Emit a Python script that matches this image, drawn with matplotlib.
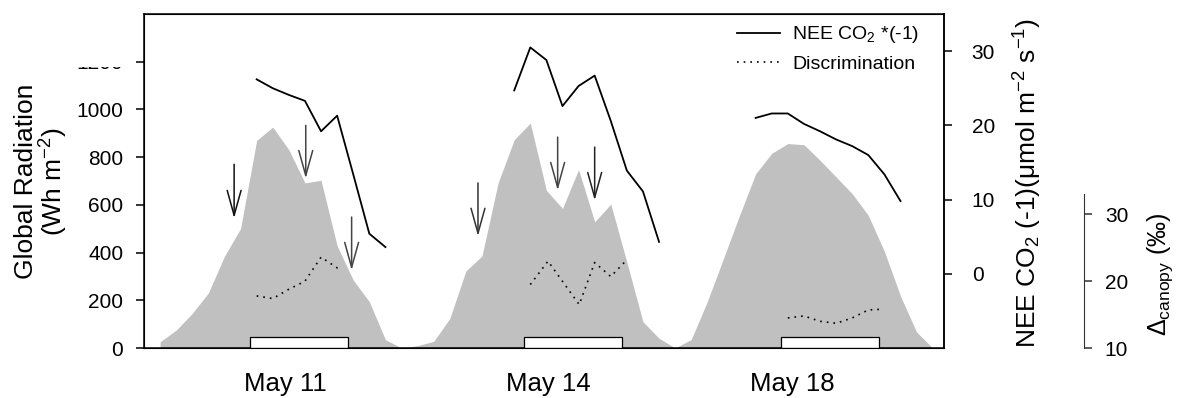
#!/usr/bin/env python3

import matplotlib
matplotlib.use('Agg')
import matplotlib.pyplot as plt
from matplotlib.lines import Line2D
from matplotlib.patches import Rectangle
import numpy as np

# Hourly global radiation (Wh m-2), the three days joined end to end
hours = np.arange(49)
radiation = [26, 75, 145, 231, 385, 501, 870, 926, 831, 692, 703, 428, 285, 194, 35,
             0, 10, 28, 124, 323, 386, 692, 873, 943, 661, 585, 748, 529, 603, 360, 110, 41,
             0, 36, 195, 375, 556, 730, 816, 857, 852, 787, 717, 647, 556, 405, 218, 67, 0]

# NEE CO2 * (-1), umol m-2 s-1, one segment per day
nee_hours = [list(range(6, 15)), list(range(22, 32)), list(range(37, 47))]
nee_values = [[26.2, 25.0, 24.1, 23.3, 19.2, 21.3, 13.4, 5.4, 3.6],
              [24.7, 30.5, 28.8, 22.6, 25.3, 26.7, 20.6, 13.9, 11.1, 4.3],
              [21.0, 21.6, 21.6, 20.2, 19.2, 18.1, 17.2, 16.0, 13.4, 9.8]]

# canopy discrimination (permil)
disc_hours = [[6, 7, 8, 9, 10, 11, 11.3],
              [23.0, 24.1, 26.04, 27.0, 28.0, 28.84],
              [39, 40, 41, 42, 43, 44, 44.8]]
disc_values = [[17.8, 17.4, 18.8, 20.0, 23.6, 22.0, 22.2],
               [19.5, 23.0, 16.5, 22.8, 20.7, 22.8],
               [14.5, 14.8, 14.0, 13.7, 14.5, 15.7, 15.8]]

# sampling periods (white bars) and cloud events (arrows)
sample_start = [5.59, 22.6, 38.6]
sample_end = [11.68, 28.7, 44.66]
arrow_hours = [4.6, 9.05, 11.9, 19.75, 24.7, 27.0]
arrow_from = [770, 933, 549, 692, 884, 842]
arrow_to = [544, 711, 326, 469, 661, 619]
arrow_colors = ['#111111', '#444444', '#444444', '#333333', '#444444', '#222222']

day_ticks = [7.8, 24.15, 39.3]
day_labels = ['May 11', 'May 14', 'May 18']


def main():
    '''Main function'''
    plt.rcParams['font.family'] = ['Liberation Sans', 'DejaVu Sans']
    plt.rcParams['mathtext.fontset'] = 'custom'
    plt.rcParams['mathtext.rm'] = 'Liberation Sans'
    plt.rcParams['mathtext.it'] = 'Liberation Sans:italic'
    plt.rcParams['mathtext.bf'] = 'Liberation Sans:bold'

    fig = plt.figure(figsize=(11.92, 3.98), dpi=100)
    ax = fig.add_axes([0.1208, 0.1256, 0.6711, 0.8392])

    # radiation as grey area
    ax.fill_between(hours, 0, radiation, color='#c0c0c0', linewidth=0, zorder=1)
    for s, e in zip(sample_start, sample_end):
        ax.add_patch(Rectangle((s, 0), e - s, 48, facecolor='white',
                               edgecolor='black', linewidth=0.9, zorder=3))
    for x, y0, y1, c in zip(arrow_hours, arrow_from, arrow_to, arrow_colors):
        ax.annotate('', xy=(x, y1), xytext=(x, y0),
                    arrowprops=dict(arrowstyle='->,head_length=1.8,head_width=0.5',
                                    color=c, lw=1.1, shrinkA=0, shrinkB=0), zorder=4)

    ax.set_xlim(-1, 48.7)
    ax.set_ylim(0, 1400)
    ax.set_yticks(range(0, 1201, 200))
    ax.set_xticks(day_ticks)
    ax.set_xticklabels(day_labels, fontsize=18.5)
    ax.tick_params(axis='x', length=0, pad=17)
    ax.tick_params(axis='y', labelsize=15, length=6, width=1.1, pad=9)
    for sp in ax.spines.values():
        sp.set_linewidth(1.1)

    # NEE on the right hand axis
    ax2 = ax.twinx()
    for h, v in zip(nee_hours, nee_values):
        ax2.plot(h, v, color='black', lw=1.3)
    ax2.set_ylim(-10, 35)
    ax2.set_yticks([0, 10, 20, 30])
    ax2.tick_params(axis='y', labelsize=15, length=6, width=1.1, pad=14)
    ax2.spines['right'].set_linewidth(1.1)

    # discrimination on an offset third axis
    ax3 = ax.twinx()
    for h, v in zip(disc_hours, disc_values):
        ax3.plot(h, v, color='black', lw=1.2, linestyle=(0, (1, 3)))
    ax3.set_ylim(10, 60)
    ax3.set_yticks([10, 20, 30])
    ax3.spines['right'].set_position(('axes', 1.175))
    ax3.spines['right'].set_bounds(10, 33)
    ax3.spines['right'].set_color('#333333')
    for side in ['left', 'top', 'bottom']:
        ax3.spines[side].set_visible(False)
    ax3.tick_params(axis='y', labelsize=15, length=6, width=1.1, pad=9, color='#333333')

    handles = [Line2D([0], [0], color='black', lw=1.3),
               Line2D([0], [0], color='black', lw=1.2, linestyle=(0, (1, 3)))]
    ax3.legend(handles, ['NEE CO$_2$ *(-1)', 'Discrimination'], loc='upper left',
               bbox_to_anchor=(0.741, 0.969), frameon=False, fontsize=14,
               handlelength=2.2, handletextpad=0.65, labelspacing=0.5,
               borderpad=0, borderaxespad=0)

    # axis titles
    fig.text(0.035, 0.545, 'Global Radiation\n(Wh m$^{-2}$)', rotation=90,
             ha='center', va='center', fontsize=19, linespacing=1.0)
    fig.text(0.862, 0.54, 'NEE CO$_2$ (-1)(μmol m$^{-2}$ s$^{-1}$)', rotation=90,
             ha='center', va='center', fontsize=19)
    fig.text(0.973, 0.31, 'Δ$_{\\mathrm{canopy}}$ (‰)', rotation=90,
             ha='center', va='center', fontsize=18)

    # blank patch over the top left tick label
    fig.patches.append(Rectangle((75 / 1192, 1 - 67 / 398), 49 / 1192, 57 / 398,
                                 transform=fig.transFigure, facecolor='white',
                                 edgecolor='none', zorder=10))

    plt.savefig('out.png', dpi=100)


if __name__ == '__main__':
    main()
